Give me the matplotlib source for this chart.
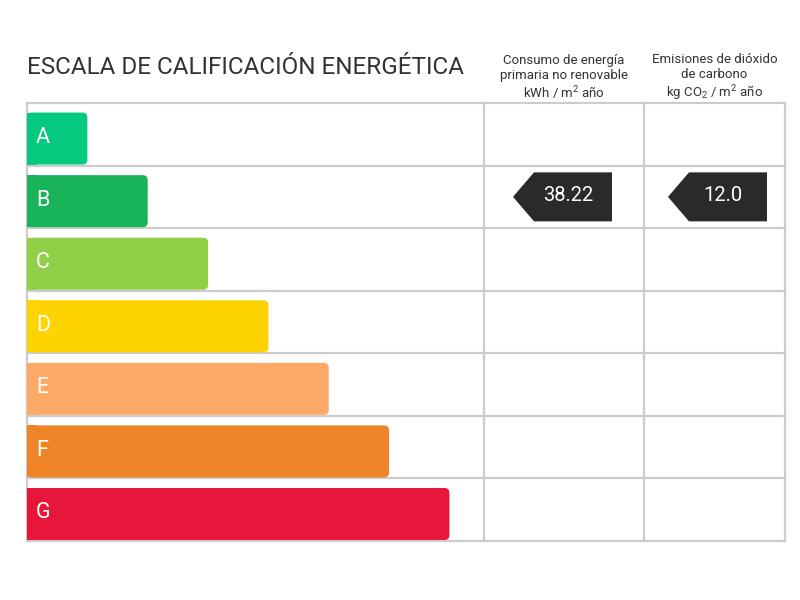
import matplotlib.pyplot as plt
from matplotlib.patches import FancyBboxPatch, Rectangle, Polygon

# data
grades = ["A", "B", "C", "D", "E", "F", "G"]
bar_steps = [1, 2, 3, 4, 5, 6, 7]
colors = ["#04c97f", "#19b45a", "#92cf48", "#fdd400", "#fdaa66", "#ee8427", "#e9163c"]
energy_grade = "B"
energy_value = "38.22"
emission_grade = "B"
emission_value = "12.0"

title = "ESCALA DE CALIFICACIÓN ENERGÉTICA"
col1_header = "Consumo de energía\nprimaria no renovable\nkWh / m$^2$ año"
col2_header = "Emisiones de dióxido\nde carbono\nkg CO$_2$ / m$^2$ año"

plt.rcParams['font.family'] = ['Roboto', 'DejaVu Sans']
plt.rcParams['mathtext.fontset'] = 'custom'
plt.rcParams['mathtext.rm'] = 'Roboto'

fig = plt.figure(figsize=(8, 6), dpi=100)
ax = fig.add_axes([0, 0, 1, 1])
ax.set_xlim(0, 800)
ax.set_ylim(600, 0)
ax.axis("off")

# layout (pixels)
left, top, bottom = 27, 103, 541
col_x = [484, 644, 785]
row_h = (bottom - top) / len(grades)
step = 60.35
grid_col = "#cccccc"

# grid
for i in range(len(grades) + 1):
    y = top + i * row_h
    ax.plot([left, col_x[-1]], [y, y], color=grid_col, lw=1.6, solid_capstyle="projecting", zorder=1)
for x in [left] + col_x:
    ax.plot([x, x], [top, bottom], color=grid_col, lw=1.6, solid_capstyle="projecting", zorder=1)

# bars
r = 5
for i, (g, n, c) in enumerate(zip(grades, bar_steps, colors)):
    y0 = top + (i + 1) * row_h - 1 - 52
    w = n * step
    ax.add_patch(FancyBboxPatch((left + r, y0 + r), w - 2 * r, 52 - 2 * r,
                                boxstyle=f"round,pad={r}", fc=c, ec="none", zorder=2))
    ax.add_patch(Rectangle((left, y0), 2 * r, 52, fc=c, ec="none", zorder=2))
    ax.text(left + 9, y0 + 25, g, color="white", fontsize=15.5, va="center", ha="left", zorder=3)

# arrows
def arrow(col, grade, value, tip_off, right_off):
    i = grades.index(grade)
    yc = top + i * row_h + row_h / 2
    x_l, x_r = col_x[col], col_x[col + 1]
    tip = x_l + tip_off
    body = tip + 21
    right = x_r - right_off
    h = 24.5
    ax.add_patch(Polygon([(tip, yc), (body, yc - h), (right, yc + -h), (right, yc + h), (body, yc + h)],
                         closed=True, fc="#2a2a2a", ec="none", zorder=3))
    ax.text((body + right) / 2 - 5, yc - 1, value, color="white", fontsize=14.5,
            ha="center", va="center", zorder=4)

arrow(0, energy_grade, energy_value, 29, 32)
arrow(1, emission_grade, emission_value, 24, 18)

# titles
ax.text(left, 68, title, fontsize=17.5, color="#333333", ha="left", va="center")
ax.text((col_x[0] + col_x[1]) / 2, 78, col1_header, fontsize=9.5, color="#333333",
        ha="center", va="center", linespacing=1.2)
ax.text((col_x[1] + col_x[2]) / 2, 78, col2_header, fontsize=9.5, color="#333333",
        ha="center", va="center", linespacing=1.2)

fig.savefig("out.png", dpi=100)
